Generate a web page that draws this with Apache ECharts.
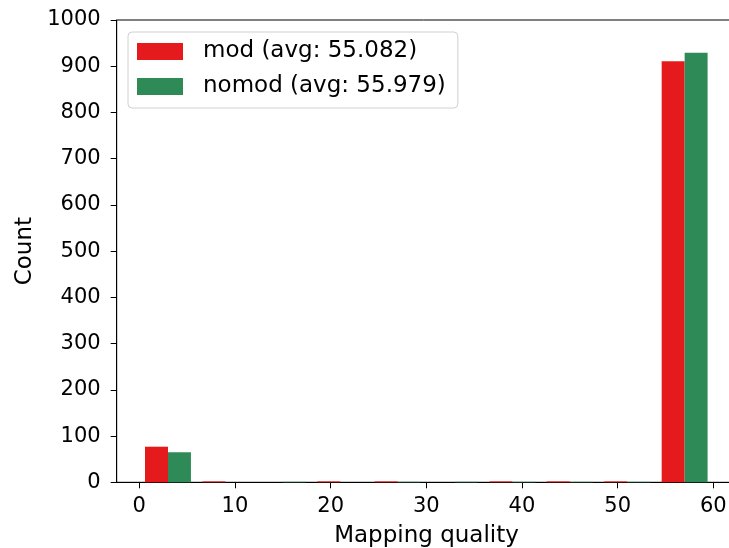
<!DOCTYPE html>
<html>
<head>
<meta charset="utf-8">
<script src="https://cdn.jsdelivr.net/npm/echarts@6/dist/echarts.min.js"></script>
<style>
  html, body { margin: 0; padding: 0; background: #fff; }
  #chart { width: 729px; height: 548px; }
</style>
</head>
<body>
<div id="chart"></div>
<script>
// Histogram bins of mapping quality (bin edges, width 6)
const binEdges = [0, 6, 12, 18, 24, 30, 36, 42, 48, 54, 60];
const modCounts = [77, 2, 0, 2, 2, 0, 2, 2, 2, 911];
const nomodCounts = [65, 0, 1, 0, 1, 1, 1, 1, 1, 929];
const seriesNames = ['mod (avg: 55.082)', 'nomod (avg: 55.979)'];
const seriesColors = ['#e41a1c', '#2e8b57'];
const xTicks = [0, 10, 20, 30, 40, 50, 60];
const yTicks = [0, 100, 200, 300, 400, 500, 600, 700, 800, 900, 1000];

const FONT = 'DejaVu Sans';

function binData(counts) {
  return counts.map((c, i) => [binEdges[i], binEdges[i + 1], c]);
}

// Two bars side by side in each bin, together covering 80% of the bin
function makeRender(slot) {
  return function (params, api) {
    const lo = api.value(0), hi = api.value(1), v = api.value(2);
    const w = hi - lo;
    const x0 = lo + w * (0.1 + 0.4 * slot);
    const x1 = x0 + w * 0.4;
    const p0 = api.coord([x0, v]);
    const p1 = api.coord([x1, 0]);
    return {
      type: 'rect',
      shape: { x: p0[0], y: p0[1], width: p1[0] - p0[0], height: p1[1] - p0[1] },
      style: { fill: api.visual('color') }
    };
  };
}

const chart = echarts.init(document.getElementById('chart'), null, { renderer: 'canvas' });
chart.setOption({
  animation: false,
  color: seriesColors,
  textStyle: { fontFamily: FONT },
  grid: {
    left: 116.7, top: 20, width: 619.6, height: 462.3,
    outerBoundsMode: 'none',
    containLabel: false,
    show: true, borderColor: '#000', borderWidth: 1, backgroundColor: 'transparent'
  },
  legend: {
    left: 128, top: 32,
    orient: 'vertical',
    icon: 'rect',
    itemWidth: 46, itemHeight: 17, itemGap: 12,
    padding: [8, 12, 10, 9],
    backgroundColor: '#fff',
    borderColor: '#d0d0d0', borderWidth: 1, borderRadius: 4,
    textStyle: { fontFamily: FONT, fontSize: 23, color: '#000', padding: [0, 0, 0, 15] },
    data: seriesNames
  },
  xAxis: {
    type: 'value',
    min: -2.36, max: 62.4,
    name: 'Mapping quality',
    nameLocation: 'middle',
    nameGap: 42,
    nameTextStyle: { fontFamily: FONT, fontSize: 23, color: '#000' },
    axisLine: { show: true, onZero: false, lineStyle: { color: '#000', width: 1 } },
    axisTick: { show: true, length: 6, lineStyle: { color: '#000' }, customValues: xTicks },
    axisLabel: { fontFamily: FONT, fontSize: 21, color: '#000', margin: 14, customValues: xTicks },
    splitLine: { show: false }
  },
  yAxis: {
    type: 'value',
    min: 0, max: 1000,
    name: 'Count',
    nameLocation: 'middle',
    nameGap: 80,
    nameTextStyle: { fontFamily: FONT, fontSize: 23, color: '#000' },
    axisLine: { show: true, onZero: false, lineStyle: { color: '#000', width: 1 } },
    axisTick: { show: true, length: 6, lineStyle: { color: '#000' }, customValues: yTicks },
    axisLabel: {
      fontFamily: FONT, fontSize: 21, color: '#000', margin: 16, customValues: yTicks,
      formatter: (v) => String(v)
    },
    splitLine: { show: false }
  },
  series: [
    {
      name: seriesNames[0], type: 'custom',
      renderItem: makeRender(0),
      itemStyle: { color: seriesColors[0] },
      encode: { x: [0, 1], y: 2 },
      data: binData(modCounts)
    },
    {
      name: seriesNames[1], type: 'custom',
      renderItem: makeRender(1),
      itemStyle: { color: seriesColors[1] },
      encode: { x: [0, 1], y: 2 },
      data: binData(nomodCounts)
    }
  ]
});
</script>
</body>
</html>
